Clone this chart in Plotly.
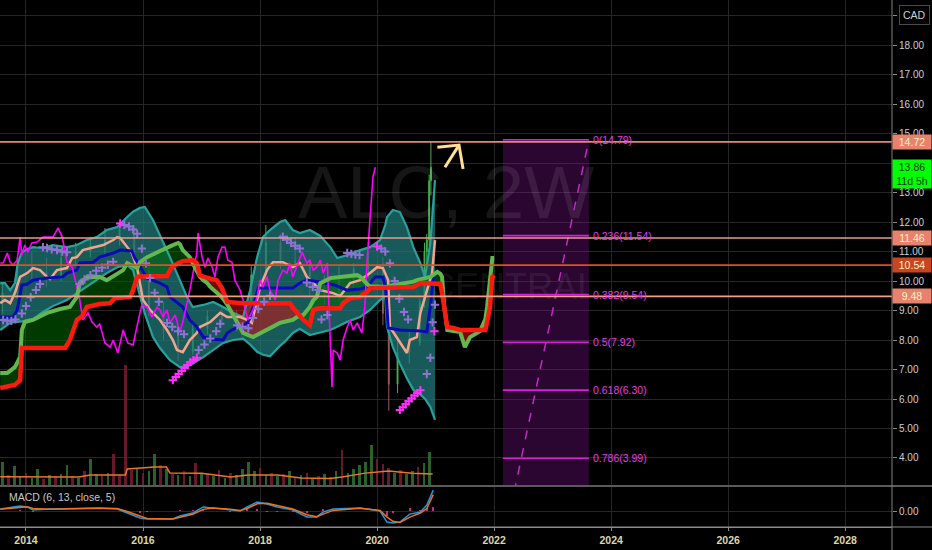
import plotly.graph_objects as go

# ---------------- axes / scale data ----------------
X_RANGE = [2013.556, 2028.80]
Y_RANGE = [3.05, 19.53]
MACD_RANGE = [-0.78, 1.22]
VOL_RANGE = [0, 2000]
YEAR_TICKS = [2014, 2016, 2018, 2020, 2022, 2024, 2026, 2028]
PRICE_TICKS = [4, 5, 6, 7, 8, 9, 10, 11, 12, 13, 14, 15, 16, 17, 18, 19]
HIDDEN_TICKS = [14, 19]   # covered by the price tags / currency box

# ---------------- Ichimoku cloud (senkou A green / senkou B red) ----------------
CLOUD_T = [2013.56, 2013.68, 2013.81, 2013.90, 2013.93, 2013.98, 2014.12, 2014.36, 2014.58, 2014.67,
           2014.75, 2014.87, 2014.92, 2014.96, 2015.04, 2015.15, 2015.26, 2015.38, 2015.44, 2015.52,
           2015.66, 2015.73, 2015.78, 2015.83, 2015.90, 2015.95, 2016.07, 2016.29, 2016.41, 2016.46,
           2016.51, 2016.60, 2016.63, 2016.68, 2016.80, 2016.85, 2016.92, 2016.97, 2017.03, 2017.09,
           2017.15, 2017.26, 2017.35, 2017.44, 2017.61, 2017.71, 2017.88, 2018.12, 2018.34, 2018.51,
           2018.56, 2018.63, 2018.74, 2018.85, 2018.91, 2018.97, 2019.03, 2019.20, 2019.37, 2019.42,
           2019.54, 2019.66, 2019.71, 2019.76, 2019.83, 2019.88, 2020.17, 2020.27, 2020.51, 2020.62,
           2020.68, 2020.74, 2020.91, 2021.03, 2021.08, 2021.11, 2021.13, 2021.15, 2021.20, 2021.30,
           2021.42, 2021.50, 2021.59, 2021.76, 2021.85, 2021.88, 2021.93, 2021.97, 2022.00]
SPAN_B = [6.37, 6.42, 6.48, 6.64, 7.73, 7.73, 7.73, 7.73, 7.73, 7.73,
          8.00, 8.68, 8.75, 8.81, 9.12, 9.19, 9.22, 9.24, 9.25, 9.42,
          9.44, 9.45, 9.46, 9.69, 10.14, 10.15, 10.16, 10.17, 10.17, 10.37,
          10.50, 10.60, 10.64, 10.67, 10.70, 10.71, 10.61, 10.20, 10.15, 10.10,
          10.08, 10.03, 9.76, 9.29, 9.25, 9.25, 9.25, 9.25, 9.25, 9.25,
          9.10, 8.92, 8.68, 8.51, 9.02, 9.06, 9.08, 9.08, 9.08, 9.25,
          9.42, 9.45, 9.46, 9.55, 9.63, 9.76, 9.78, 9.77, 9.79, 9.80,
          9.86, 9.93, 9.92, 9.91, 9.90, 9.60, 9.36, 8.90, 8.44, 8.41,
          8.34, 8.34, 8.34, 8.34, 8.34, 8.60, 9.12, 10.14, 10.20]
SPAN_A = [6.88, 6.88, 7.08, 7.42, 8.34, 8.61, 8.68, 8.92, 9.05, 9.08,
          9.12, 9.46, 9.93, 10.00, 10.12, 10.14, 10.14, 10.03, 10.10, 10.22,
          10.37, 10.61, 10.56, 10.51, 10.44, 10.64, 10.81, 11.02, 11.15, 11.20,
          11.22, 11.29, 11.25, 11.05, 10.81, 10.60, 10.37, 10.15, 10.03, 9.95,
          9.80, 9.60, 9.45, 9.20, 8.58, 8.24, 8.10, 8.34, 8.58, 8.66,
          8.68, 8.78, 8.85, 9.12, 9.35, 9.46, 9.93, 10.10, 10.14, 10.16,
          10.18, 10.20, 10.15, 10.03, 9.90, 9.82, 9.80, 9.86, 9.93, 9.98,
          10.03, 10.06, 10.14, 10.31, 10.25, 10.14, 9.60, 9.12, 8.34, 8.30,
          8.27, 7.76, 8.10, 8.30, 8.70, 9.12, 10.03, 10.78, 10.78]

# ---------------- Bollinger bands ----------------
BB_T = [2013.56, 2013.64, 2013.73, 2013.81, 2013.86, 2013.93, 2014.02, 2014.12, 2014.29, 2014.46,
        2014.70, 2014.87, 2015.04, 2015.21, 2015.38, 2015.56, 2015.73, 2015.83, 2015.95, 2016.03,
        2016.17, 2016.29, 2016.46, 2016.63, 2016.75, 2016.85, 2017.03, 2017.20, 2017.37, 2017.54,
        2017.71, 2017.83, 2017.95, 2018.05, 2018.17, 2018.34, 2018.43, 2018.56, 2018.68, 2018.85,
        2019.03, 2019.20, 2019.32, 2019.49, 2019.71, 2019.88, 2020.05, 2020.14, 2020.17, 2020.27,
        2020.39, 2020.51, 2020.62, 2020.74, 2020.82, 2020.91, 2020.99]
BB_UP = [9.93, 9.93, 9.69, 9.93, 10.61, 10.98, 11.08, 11.15, 11.12, 11.22,
         11.15, 11.22, 11.39, 11.49, 11.73, 11.83, 12.17, 12.35, 12.48, 12.51,
         12.07, 11.56, 10.81, 10.03, 9.46, 9.12, 9.19, 9.29, 9.12, 8.92,
         8.78, 9.69, 10.81, 11.49, 11.73, 12.00, 12.07, 11.73, 11.63, 11.73,
         11.53, 11.15, 10.78, 10.88, 11.05, 11.15, 11.39, 11.90, 12.17, 12.41,
         12.34, 11.83, 11.15, 10.61, 10.14, 11.29, 13.42]
BB_LO = [8.34, 8.44, 8.58, 8.61, 8.61, 8.63, 8.68, 8.71, 8.95, 9.15,
         9.36, 9.59, 9.80, 10.03, 10.27, 10.47, 10.54, 10.37, 9.46, 8.90,
         8.10, 7.73, 7.32, 7.08, 7.10, 7.20, 7.42, 7.65, 7.90, 8.00,
         8.05, 7.85, 7.60, 7.50, 7.45, 7.80, 7.95, 8.24, 8.38, 8.17,
         8.27, 8.34, 8.45, 8.62, 8.78, 9.02, 9.36, 9.46, 8.44, 7.76,
         7.20, 6.70, 6.31, 6.15, 6.00, 5.73, 5.29]

# ---------------- conversion (salmon) line ----------------
SAL_T = [2013.56, 2013.64, 2013.73, 2013.81, 2013.90, 2014.02, 2014.12, 2014.24, 2014.36, 2014.41,
         2014.53, 2014.70, 2014.79, 2014.87, 2014.97, 2015.15, 2015.32, 2015.49, 2015.56, 2015.61,
         2015.81, 2015.90, 2015.95, 2016.00, 2016.12, 2016.24, 2016.29, 2016.41, 2016.51, 2016.58,
         2016.68, 2016.80, 2016.92, 2016.97, 2017.15, 2017.32, 2017.44, 2017.66, 2017.79, 2017.86,
         2017.95, 2018.00, 2018.12, 2018.22, 2018.39, 2018.56, 2018.68, 2018.80, 2018.91, 2019.03,
         2019.25, 2019.37, 2019.54, 2019.71, 2019.88, 2020.00, 2020.10, 2020.19, 2020.22, 2020.39,
         2020.51, 2020.56, 2020.68, 2020.74, 2020.85, 2020.94, 2020.99]
SAL = [9.25, 9.36, 9.25, 9.59, 10.14, 10.27, 10.44, 10.37, 10.14, 10.07,
       10.37, 10.44, 10.78, 10.81, 11.05, 11.15, 11.22, 11.39, 11.49, 11.46,
       10.95, 10.44, 9.93, 9.36, 9.02, 8.78, 8.68, 8.34, 8.00, 7.66,
       7.59, 8.00, 8.24, 8.44, 8.61, 8.92, 8.78, 8.78, 8.68, 8.58,
       9.36, 9.80, 10.37, 10.64, 10.64, 10.47, 10.61, 10.14, 9.93, 9.69,
       9.59, 9.49, 9.93, 10.03, 10.27, 10.47, 10.44, 10.03, 8.44, 7.90,
       7.56, 8.00, 8.10, 8.92, 9.69, 10.27, 11.39]

# ---------------- base (blue) line ----------------
BLUE_T = [2013.56, 2013.78, 2013.85, 2013.90, 2013.93, 2014.02, 2014.12, 2014.36, 2014.63, 2014.70,
          2014.87, 2014.92, 2015.15, 2015.26, 2015.49, 2015.61, 2015.81, 2015.86, 2015.95, 2016.07,
          2016.29, 2016.41, 2016.46, 2016.58, 2016.68, 2016.80, 2016.92, 2017.03, 2017.20, 2017.37,
          2017.44, 2017.52, 2017.71, 2017.79, 2017.88, 2017.97, 2018.56, 2018.68, 2018.80, 2019.03,
          2019.28, 2019.49, 2019.71, 2019.83, 2019.97, 2020.10, 2020.15, 2020.19, 2020.39, 2020.74,
          2020.85, 2020.91, 2020.96, 2020.99]
BLUE = [8.78, 8.78, 9.02, 9.59, 9.86, 9.90, 10.03, 10.10, 10.14, 10.27,
        10.37, 10.61, 10.64, 10.81, 10.95, 11.05, 11.02, 10.78, 10.47, 10.10,
        9.93, 9.80, 9.46, 9.29, 9.12, 8.68, 8.44, 8.10, 8.03, 8.00,
        8.24, 8.34, 8.51, 8.58, 9.12, 9.76, 9.76, 9.93, 10.03, 9.97,
        9.86, 9.69, 9.73, 9.80, 10.14, 10.14, 9.69, 8.41, 8.34, 8.31,
        8.27, 9.12, 10.03, 10.14]

# ---------------- lagging span (magenta) ----------------
CHIKOU_T = [2013.56, 2013.61, 2013.68, 2013.73, 2013.78, 2013.85, 2013.90, 2013.93, 2013.98, 2014.03,
            2014.10, 2014.19, 2014.29, 2014.46, 2014.55, 2014.62, 2014.70, 2014.79, 2014.87, 2014.92,
            2014.97, 2015.06, 2015.13, 2015.21, 2015.26, 2015.35, 2015.44, 2015.49, 2015.57, 2015.66,
            2015.74, 2015.83, 2015.91, 2015.98, 2016.07, 2016.15, 2016.24, 2016.29, 2016.34, 2016.41,
            2016.46, 2016.55, 2016.63, 2016.68, 2016.80, 2016.85, 2016.92, 2016.94, 2017.01, 2017.06,
            2017.11, 2017.18, 2017.23, 2017.28, 2017.35, 2017.40, 2017.45, 2017.52, 2017.57, 2017.66,
            2017.71, 2017.79, 2017.88, 2017.95, 2018.00, 2018.05, 2018.12, 2018.17, 2018.26, 2018.31,
            2018.39, 2018.46, 2018.51, 2018.56, 2018.65, 2018.72, 2018.80, 2018.85, 2018.91, 2018.97,
            2019.03, 2019.08, 2019.15, 2019.16, 2019.20, 2019.23, 2019.25, 2019.32, 2019.37, 2019.42,
            2019.49, 2019.54, 2019.59, 2019.66, 2019.74, 2019.79, 2019.83, 2019.88, 2019.93, 2019.97]
CHIKOU = [10.61, 10.61, 10.95, 10.64, 10.54, 10.71, 11.49, 10.88, 11.22, 10.98,
          11.29, 11.32, 11.49, 11.49, 11.80, 11.49, 10.64, 10.47, 9.80, 9.36,
          8.68, 8.92, 8.61, 8.44, 8.54, 7.90, 7.76, 8.00, 7.56, 8.34,
          7.90, 7.83, 8.58, 9.19, 9.12, 8.78, 9.12, 9.02, 8.78, 9.02,
          8.58, 8.85, 8.27, 8.61, 9.69, 10.27, 10.95, 11.63, 10.81, 10.47,
          10.78, 10.47, 10.14, 10.81, 11.15, 11.15, 10.71, 10.64, 10.03, 9.69,
          9.36, 8.68, 9.02, 9.46, 10.03, 9.80, 10.14, 9.69, 9.36, 10.03,
          10.37, 10.27, 10.61, 10.14, 10.61, 10.98, 10.61, 10.71, 10.37, 10.47,
          10.71, 10.27, 10.61, 10.03, 8.44, 6.41, 7.66, 7.56, 7.32, 8.00,
          8.44, 8.68, 8.34, 8.58, 8.24, 9.12, 10.71, 11.97, 13.53, 13.86]

# ---------------- parabolic SAR crosses ----------------
SAR_T = [2013.61, 2013.68, 2013.75, 2013.82, 2013.93, 2014.00, 2014.08, 2014.17, 2014.24, 2014.29,
         2014.36, 2014.44, 2014.53, 2014.62, 2014.70, 2014.92, 2015.00, 2015.10, 2015.20, 2015.30,
         2015.40, 2015.49, 2015.68, 2015.76, 2015.83, 2015.90, 2015.98, 2016.05, 2016.12, 2016.20,
         2016.27, 2016.41, 2016.50, 2016.60, 2016.70, 2016.95, 2017.05, 2017.15, 2017.25, 2017.32,
         2017.61, 2017.70, 2017.80, 2017.88, 2017.97, 2018.07, 2018.17, 2018.39, 2018.46, 2018.53,
         2018.60, 2018.68, 2018.80, 2018.90, 2019.00, 2019.05, 2019.15, 2019.49, 2019.56, 2019.63,
         2019.70, 2020.07, 2020.14, 2020.22, 2020.30, 2020.38, 2020.46, 2020.53, 2020.85, 2020.91,
         2020.95, 2020.99]
SAR = [8.68, 8.65, 8.65, 8.70, 8.90, 9.15, 9.45, 9.70, 9.90, 11.15,
       11.12, 11.08, 11.05, 11.00, 10.98, 9.90, 10.05, 10.20, 10.35, 10.45,
       10.55, 10.65, 11.90, 11.85, 11.75, 11.60, 11.10, 10.60, 10.10, 9.60,
       9.30, 8.58, 8.45, 8.30, 8.20, 7.66, 7.85, 8.05, 8.30, 8.55,
       8.50, 8.45, 8.40, 8.75, 9.05, 9.30, 9.50, 11.50, 11.40, 11.30,
       11.20, 11.10, 9.95, 9.80, 9.70, 8.70, 8.85, 10.95, 10.92, 10.90,
       10.88, 11.10, 11.00, 10.60, 10.00, 9.40, 8.95, 8.70, 6.85, 7.40,
       8.60, 9.20]
SAR2_T = [2015.61, 2016.51, 2016.56, 2016.61, 2016.66, 2016.71, 2016.76, 2016.81, 2016.86, 2016.92,
          2020.00, 2020.39, 2020.44, 2020.49, 2020.54, 2020.59, 2020.64, 2020.69, 2020.74, 2020.98]
SAR2 = [11.95, 6.64, 6.75, 6.85, 6.95, 7.05, 7.15, 7.25, 7.32, 7.40,
        11.17, 5.63, 5.72, 5.82, 5.92, 6.02, 6.12, 6.20, 6.30, 8.30]

# ---------------- candles ----------------
CANDLE_T = [2013.60, 2013.85, 2014.10, 2014.35, 2014.60, 2014.85, 2015.10, 2015.35, 2015.60, 2015.85,
            2016.10, 2016.35, 2016.60, 2016.85, 2017.10, 2017.35, 2017.60, 2017.85, 2018.10, 2018.35,
            2018.60, 2018.85, 2019.10, 2019.35, 2019.60, 2019.85, 2020.10, 2020.20, 2020.35, 2020.55,
            2020.73, 2020.81, 2020.85, 2020.89, 2020.92]
OPEN = [9.3, 9.6, 10.5, 10.3, 10.2, 10.8, 11.0, 11.2, 11.4, 11.8, 10.2, 9.0, 8.3, 7.6, 8.4, 8.8, 8.7, 8.6,
        10.2, 11.3, 10.7, 10.5, 9.8, 9.5, 10.1, 10.4, 10.6, 8.9, 6.5, 7.6, 7.9, 9.3, 11.0, 11.4, 13.4]
HIGH = [9.9, 10.8, 11.0, 10.8, 11.0, 11.3, 11.5, 11.8, 12.0, 11.9, 10.5, 9.3, 8.5, 8.6, 9.0, 9.1, 9.0, 10.5,
        11.9, 11.6, 11.5, 10.7, 10.2, 10.5, 10.6, 11.0, 10.8, 9.2, 8.0, 8.3, 9.4, 11.3, 11.6, 13.6, 14.72]
LOW = [8.9, 9.4, 10.0, 9.8, 10.0, 10.5, 10.8, 10.9, 11.2, 10.0, 8.8, 8.0, 7.3, 7.5, 8.2, 8.5, 8.3, 8.5,
       10.0, 10.4, 10.3, 9.5, 9.2, 9.3, 9.8, 10.1, 8.5, 5.6, 6.2, 7.2, 7.8, 9.1, 10.4, 11.2, 12.9]
CLOSE = [9.6, 10.5, 10.3, 10.2, 10.8, 11.0, 11.2, 11.4, 11.8, 10.2, 9.0, 8.3, 7.6, 8.4, 8.8, 8.7, 8.6, 10.2,
         11.3, 10.7, 10.5, 9.8, 9.5, 10.1, 10.4, 10.6, 8.9, 6.5, 7.6, 7.9, 9.3, 11.0, 11.4, 13.4, 13.86]

# ---------------- volume ----------------
VOL_T = [2013.6, 2013.7, 2013.8, 2013.9, 2014.0, 2014.1, 2014.2, 2014.3, 2014.4, 2014.5,
         2014.6, 2014.7, 2014.8, 2014.9, 2015.0, 2015.1, 2015.2, 2015.3, 2015.4, 2015.5,
         2015.6, 2015.7, 2015.8, 2015.9, 2016.0, 2016.1, 2016.2, 2016.3, 2016.4, 2016.5,
         2016.6, 2016.7, 2016.8, 2016.9, 2017.0, 2017.1, 2017.2, 2017.3, 2017.4, 2017.5,
         2017.6, 2017.7, 2017.8, 2017.9, 2018.0, 2018.1, 2018.2, 2018.3, 2018.4, 2018.5,
         2018.6, 2018.7, 2018.8, 2018.9, 2019.0, 2019.1, 2019.2, 2019.3, 2019.4, 2019.5,
         2019.6, 2019.7, 2019.8, 2019.9, 2020.0, 2020.1, 2020.2, 2020.3, 2020.4, 2020.5,
         2020.6, 2020.7, 2020.8, 2020.9]
VOL = [100, 45, 82, 40, 55, 35, 70, 30, 45, 38,
       50, 86, 42, 35, 60, 112, 48, 40, 55, 130,
       45, 500, 65, 70, 55, 60, 130, 85, 70, 50,
       45, 60, 40, 95, 55, 48, 40, 65, 35, 52,
       45, 70, 98, 60, 75, 45, 55, 40, 50, 62,
       38, 45, 55, 35, 42, 48, 38, 60, 150, 55,
       70, 85, 100, 170, 110, 90, 75, 55, 65, 48,
       60, 80, 95, 140]
VOL_UP = [1, 0, 1, 1, 0, 1, 1, 0, 1, 0,
          1, 1, 0, 1, 0, 1, 1, 0, 1, 0,
          0, 0, 0, 1, 0, 1, 1, 0, 1, 0,
          1, 0, 1, 0, 1, 0, 1, 0, 1, 0,
          1, 1, 1, 1, 0, 1, 0, 1, 0, 1,
          0, 1, 0, 1, 0, 1, 0, 1, 0, 1,
          1, 1, 1, 1, 0, 0, 0, 1, 0, 1,
          1, 0, 1, 1]
VOL_MA_T = [2013.56, 2014.20, 2014.90, 2015.10, 2015.70, 2015.73, 2016.00, 2016.20, 2016.40, 2016.46,
            2017.00, 2017.50, 2017.80, 2018.30, 2018.70, 2019.20, 2019.40, 2019.80, 2020.20, 2020.60, 2020.95]
VOL_MA = [38, 37, 37, 45, 45, 70, 75, 78, 78, 53, 52, 37, 45, 45, 33, 31, 37, 53, 62, 52, 49]

# ---------------- MACD (6, 13, close, 5) ----------------
MACD_T = [2013.56, 2013.90, 2014.02, 2014.12, 2014.41, 2015.26, 2015.56, 2015.73, 2015.95, 2016.07,
          2016.51, 2016.63, 2016.85, 2017.03, 2017.20, 2017.49, 2017.66, 2017.78, 2017.95, 2018.12,
          2018.29, 2018.56, 2018.80, 2018.97, 2019.08, 2019.25, 2019.71, 2020.05, 2020.17, 2020.27,
          2020.39, 2020.56, 2020.74, 2020.85, 2020.96]
MACD = [0.10, 0.24, 0.20, 0.05, 0.10, 0.15, 0.10, -0.10, -0.34, -0.39,
        -0.39, -0.24, -0.10, 0.20, 0.15, 0.05, 0.00, 0.20, 0.44, 0.34,
        0.20, 0.05, -0.29, -0.29, -0.05, 0.10, 0.15, 0.00, -0.54, -0.59,
        -0.54, -0.15, -0.05, 0.29, 1.02]
SIGNAL = [0.08, 0.18, 0.21, 0.12, 0.09, 0.14, 0.12, -0.02, -0.25, -0.36,
          -0.39, -0.30, -0.16, 0.08, 0.15, 0.08, 0.02, 0.12, 0.35, 0.38,
          0.26, 0.10, -0.18, -0.28, -0.15, 0.03, 0.14, 0.03, -0.30, -0.50,
          -0.56, -0.30, -0.10, 0.12, 0.80]

# ---------------- horizontal levels / tags ----------------
H_LEVELS = [14.72, 11.46, 10.54, 9.48]
H_COLORS = ["#e8846f", "#f09a84", "#d4532e", "#f0a088"]
TAG_BG = ["#e8826d", "#e8826d", "#c8461f", "#e8826d"]
LAST_PRICE = 13.86
COUNTDOWN = "11d 5h"

# ---------------- Fibonacci retracement ----------------
FIB_T = [2022.15, 2023.62]
FIB_LEVELS = [0, 0.236, 0.382, 0.5, 0.618, 0.786]
FIB_PRICES = [14.79, 11.54, 9.54, 7.92, 6.30, 3.99]
FIB_BASE = 1.05

# ---------------- hand-drawn arrow ----------------
ARROW_T = [2021.16, 2021.40, None, 2021.03, 2021.40, 2021.47]
ARROW_P = [13.86, 14.61, None, 14.54, 14.61, 13.80]

WATERMARK = ["ALC, 2W", "CANNA CENTRAL"]
WM_DY = [1.46, -1.60]

# ---------------- layout constants ----------------
PLOT_PX = 527
MACD_PX = 41
MACD_FRAC = MACD_PX / PLOT_PX
GRID = "#262626"
FONT = "Liberation Sans"

fig = go.Figure()

# watermark (drawn first so it stays under everything)
x_mid = sum(X_RANGE) / 2
y_mid = sum(Y_RANGE) / 2
for txt, dy, size in zip(WATERMARK, WM_DY, [74, 36]):
    fig.add_trace(go.Scatter(x=[x_mid], y=[y_mid + dy], mode="text", text=[txt],
                             textfont=dict(family=FONT, size=size, color="rgba(255,255,255,0.085)"),
                             hoverinfo="skip", yaxis="y"))

# candles
fig.add_trace(go.Candlestick(x=CANDLE_T, open=OPEN, high=HIGH, low=LOW, close=CLOSE,
                             increasing=dict(line=dict(color="#45b24c", width=1), fillcolor="#45b24c"),
                             decreasing=dict(line=dict(color="#9a5a5a", width=1), fillcolor="#9a5a5a"),
                             whiskerwidth=0, yaxis="y", hoverinfo="skip"))

# Bollinger band fill
fig.add_trace(go.Scatter(x=BB_T + BB_T[::-1], y=BB_UP + BB_LO[::-1], fill="toself",
                         fillcolor="rgba(32,122,122,0.74)", line=dict(width=0), mode="lines",
                         hoverinfo="skip", yaxis="y"))


def cloud_polys(t, a, b):
    polys = []
    ct, ca, cb = [t[0]], [a[0]], [b[0]]
    sign = a[0] >= b[0]
    for i in range(1, len(t)):
        s = a[i] >= b[i]
        if s != sign:
            d0 = a[i - 1] - b[i - 1]
            d1 = a[i] - b[i]
            f = d0 / (d0 - d1)
            tc = t[i - 1] + f * (t[i] - t[i - 1])
            vc = a[i - 1] + f * (a[i] - a[i - 1])
            ct.append(tc); ca.append(vc); cb.append(vc)
            polys.append((sign, ct, ca, cb))
            ct, ca, cb = [tc], [vc], [vc]
            sign = s
        ct.append(t[i]); ca.append(a[i]); cb.append(b[i])
    polys.append((sign, ct, ca, cb))
    return polys


for up, ts, av, bv in cloud_polys(CLOUD_T, SPAN_A, SPAN_B):
    fig.add_trace(go.Scatter(x=ts + ts[::-1], y=av + bv[::-1], fill="toself",
                             fillcolor="rgba(0,105,0,0.55)" if up else "rgba(195,20,20,0.58)",
                             line=dict(width=0), mode="lines", hoverinfo="skip", yaxis="y"))

# band borders
for arr in (BB_UP, BB_LO):
    fig.add_trace(go.Scatter(x=BB_T, y=arr, mode="lines", line=dict(color="#2aa09c", width=2.2),
                             hoverinfo="skip", yaxis="y"))

fig.add_trace(go.Scatter(x=SAL_T, y=SAL, mode="lines", line=dict(color="#f4a38c", width=2.5), yaxis="y"))
fig.add_trace(go.Scatter(x=BLUE_T, y=BLUE, mode="lines", line=dict(color="#0a0ab8", width=3), yaxis="y"))
fig.add_trace(go.Scatter(x=CHIKOU_T, y=CHIKOU, mode="lines", line=dict(color="#ff00ff", width=1.6), yaxis="y"))
fig.add_trace(go.Scatter(x=CLOUD_T, y=SPAN_A, mode="lines", line=dict(color="#62b84e", width=4), yaxis="y"))
fig.add_trace(go.Scatter(x=CLOUD_T, y=SPAN_B, mode="lines", line=dict(color="#ff1a10", width=4.5), yaxis="y"))

fig.add_trace(go.Scatter(x=SAR_T, y=SAR, mode="markers",
                         marker=dict(symbol="cross-thin", size=6, line=dict(color="#8f72d4", width=2)),
                         yaxis="y"))
fig.add_trace(go.Scatter(x=SAR2_T, y=SAR2, mode="markers",
                         marker=dict(symbol="cross-thin", size=6, line=dict(color="#ff30ff", width=2)),
                         yaxis="y"))

# fib diagonal and arrow
fig.add_trace(go.Scatter(x=FIB_T, y=[FIB_BASE, FIB_PRICES[0]], mode="lines",
                         line=dict(color="#c22cc2", width=1.5, dash="dash"), yaxis="y"))
fig.add_trace(go.Scatter(x=ARROW_T, y=ARROW_P, mode="lines", line=dict(color="#ffe094", width=3),
                         connectgaps=False, yaxis="y"))

# volume (overlay axis)
fig.add_trace(go.Bar(x=VOL_T, y=VOL, width=0.045, marker_line_width=0,
                     marker_color=["rgba(55,130,60,0.75)" if u else "rgba(130,30,55,0.8)" for u in VOL_UP],
                     yaxis="y3"))
fig.add_trace(go.Scatter(x=VOL_MA_T, y=VOL_MA, mode="lines", line=dict(color="#e8762e", width=1.5),
                         yaxis="y3"))

# MACD pane
HIST = [m - s for m, s in zip(MACD, SIGNAL)]
fig.add_trace(go.Bar(x=MACD_T, y=HIST, width=0.035, marker_color="rgba(230,50,150,0.85)",
                     marker_line_width=0, yaxis="y2"))
fig.add_trace(go.Scatter(x=MACD_T, y=MACD, mode="lines", line=dict(color="#2198dc", width=1.5), yaxis="y2"))
fig.add_trace(go.Scatter(x=MACD_T, y=SIGNAL, mode="lines", line=dict(color="#f0701e", width=1.5), yaxis="y2"))

# ---------------- shapes ----------------
shapes = []
for lvl, col in zip(H_LEVELS, H_COLORS):
    shapes.append(dict(type="line", xref="paper", x0=0, x1=1, yref="y", y0=lvl, y1=lvl,
                       line=dict(color=col, width=1.6), layer="above"))
shapes.append(dict(type="rect", xref="x", x0=FIB_T[0], x1=FIB_T[1], yref="y", y0=Y_RANGE[0],
                   y1=FIB_PRICES[0], fillcolor="rgba(125,18,145,0.34)", line=dict(width=0), layer="between"))
for p in FIB_PRICES:
    shapes.append(dict(type="line", xref="x", x0=FIB_T[0], x1=FIB_T[1], yref="y", y0=p, y1=p,
                       line=dict(color="#d61fd6", width=1.6), layer="above"))
shapes.append(dict(type="line", xref="paper", x0=0, x1=932 / 892, yref="paper", y0=MACD_FRAC, y1=MACD_FRAC,
                   line=dict(color="#5a5a5a", width=2)))
shapes.append(dict(type="line", xref="paper", x0=0, x1=932 / 892, yref="paper", y0=0, y1=0,
                   line=dict(color="#8a8a8a", width=1)))
shapes.append(dict(type="line", xref="paper", x0=1, x1=1, yref="paper", y0=-23 / PLOT_PX, y1=1,
                   line=dict(color="#808080", width=1)))

# ---------------- annotations ----------------
ann = []
for lvl, p in zip(FIB_LEVELS, FIB_PRICES):
    ann.append(dict(x=FIB_T[1], y=p, xref="x", yref="y", text=f"{lvl}({p:.2f})", showarrow=False,
                    xanchor="left", yanchor="middle", xshift=2,
                    font=dict(family=FONT, size=10.5, color="#e63ce6")))
tag_font = dict(family=FONT, size=10.5, color="#fff2c2")
for lvl, bg in zip(H_LEVELS, TAG_BG):
    ann.append(dict(x=1, y=lvl, xref="paper", yref="y", text=f"{lvl:.2f}", showarrow=False,
                    xanchor="left", yanchor="middle", bgcolor=bg, width=36, height=12, borderpad=1,
                    font=tag_font))
ann.append(dict(x=1, y=LAST_PRICE, xref="paper", yref="y", text=f"{LAST_PRICE:.2f}", showarrow=False,
                xanchor="left", yanchor="middle", bgcolor="#00ff00", width=36, height=12, borderpad=1,
                font=dict(family=FONT, size=10.5, color="#0a3a0a")))
ann.append(dict(x=1, y=LAST_PRICE, xref="paper", yref="y", text=COUNTDOWN, showarrow=False,
                xanchor="left", yanchor="middle", yshift=-14, bgcolor="#00ff00", width=36, height=12,
                borderpad=1, font=dict(family=FONT, size=10.5, color="#0a3a0a")))
ann.append(dict(x=914 / 892, y=1 - 15 / PLOT_PX, xref="paper", yref="paper", text="CAD", showarrow=False,
                xanchor="center", yanchor="middle", bgcolor="#000000", bordercolor="#4a4a4a",
                borderwidth=1, borderpad=3, font=dict(family=FONT, size=10.5, color="#d0d0d0")))
ann.append(dict(x=0.008, y=0.74, xref="paper", yref="y2 domain", text="MACD (6, 13, close, 5)",
                showarrow=False, xanchor="left", yanchor="middle",
                font=dict(family=FONT, size=10.5, color="#c8c8c8")))

fig.update_layout(
    width=932, height=550,
    margin=dict(l=0, r=40, t=0, b=23),
    paper_bgcolor="#000000", plot_bgcolor="#000000",
    showlegend=False, bargap=0,
    xaxis=dict(range=X_RANGE, anchor="y2", tickvals=YEAR_TICKS, ticktext=[str(y) for y in YEAR_TICKS],
               showgrid=True, gridcolor=GRID, gridwidth=1, zeroline=False, showline=True,
               linecolor="#8a8a8a", ticks="outside", ticklen=3, tickcolor="#8a8a8a",
               tickfont=dict(family=FONT, size=10.5, color="#ddd4aa", weight="bold"),
               rangeslider=dict(visible=False), fixedrange=True),
    yaxis=dict(domain=[MACD_FRAC, 1], range=Y_RANGE, side="right", anchor="x",
               tickvals=PRICE_TICKS,
               ticktext=["" if v in HIDDEN_TICKS else f"{v:.2f}" for v in PRICE_TICKS],
               showgrid=True, gridcolor=GRID, zeroline=False, ticks="outside", ticklen=4,
               tickcolor="#8a8a8a", tickfont=dict(family=FONT, size=10, color="#cfcfcf")),
    yaxis2=dict(domain=[0, MACD_FRAC], range=MACD_RANGE, side="right", anchor="x",
                tickvals=[0], ticktext=["0.00"], showgrid=True, gridcolor=GRID, zeroline=False,
                ticks="outside", ticklen=4, tickcolor="#8a8a8a",
                tickfont=dict(family=FONT, size=10, color="#cfcfcf")),
    yaxis3=dict(overlaying="y", range=VOL_RANGE, visible=False),
    shapes=shapes,
    annotations=ann,
)

fig.write_html("out.html", config={"displayModeBar": False},
               post_script="document.body.style.margin='0';document.body.style.overflow='hidden';"
                           "document.documentElement.style.background='#000';")
